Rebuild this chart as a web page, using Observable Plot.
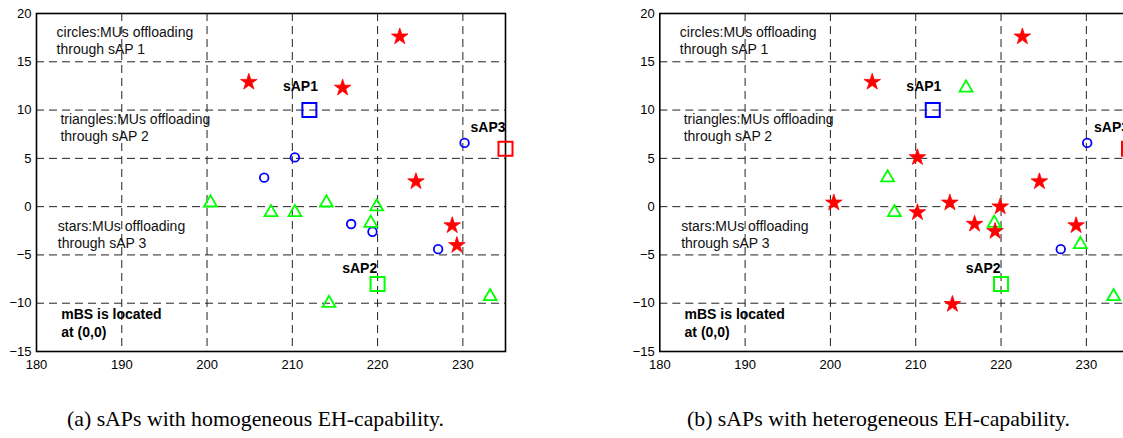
<!DOCTYPE html>
<html>
<head>
<meta charset="utf-8">
<script src="https://cdn.jsdelivr.net/npm/d3@7"></script>
<script src="https://cdn.jsdelivr.net/npm/@observablehq/plot@0.6"></script>
<style>
  html, body { margin: 0; padding: 0; background: white; }
  #wrap { position: relative; width: 1123px; height: 438px; overflow: hidden; background: white; }
  .panel { position: absolute; top: 0; }
  .cap { position: absolute; font-family: "Liberation Serif", "Times New Roman", serif; font-size: 21.8px; white-space: nowrap; color: #000; }
</style>
</head>
<body>
<div id="wrap">
  <div class="panel" id="pa" style="left:0px"></div>
  <div class="panel" id="pb" style="left:560px"></div>
  <div class="cap" id="capA" style="left:67px; top:407px">(a) sAPs with homogeneous EH-capability.</div>
  <div class="cap" id="capB" style="left:687px; top:407px">(b) sAPs with heterogeneous EH-capability.</div>
</div>
<script>
// ---- axis ticks ----
const xTicks = [180, 190, 200, 210, 220, 230];
const yTicks = [-15, -10, -5, 0, 5, 10, 15, 20];

// ---- small cell access points (sAPs) ----
const sapNames = ["sAP1", "sAP2", "sAP3"];
const sapX = [212, 220, 235];
const sapY = [10, -8, 6];
const sapColors = ["#0000ff", "#00ff00", "#ff0000"];
const sapLabelX = [208.9, 215.85, 230.9];
const sapLabelY = [12.4, -6.4, 8.2];

// ---- panel (a): homogeneous EH-capability ----
const aCircleX = [206.7, 210.3, 230.2, 216.9, 219.4, 227.1];
const aCircleY = [3.0, 5.1, 6.6, -1.8, -2.6, -4.4];
const aTriangleX = [200.4, 207.5, 210.3, 214.0, 219.9, 219.2, 214.3, 233.2];
const aTriangleY = [0.4, -0.6, -0.6, 0.4, 0.0, -1.7, -10.0, -9.3];
const aStarX = [204.9, 215.9, 222.6, 224.5, 228.75, 229.3];
const aStarY = [12.9, 12.3, 17.6, 2.6, -1.95, -4.0];

// ---- panel (b): heterogeneous EH-capability ----
const bCircleX = [230.1, 227.0];
const bCircleY = [6.6, -4.4];
const bTriangleX = [215.9, 206.7, 207.5, 219.2, 229.3, 233.2];
const bTriangleY = [12.3, 3.0, -0.6, -1.7, -3.9, -9.3];
const bStarX = [204.9, 222.5, 210.2, 224.5, 200.4, 210.2, 214.0, 219.9, 216.9, 219.3, 228.8, 214.3];
const bStarY = [12.9, 17.6, 5.1, 2.6, 0.4, -0.6, 0.4, 0.0, -1.8, -2.55, -1.95, -10.1];

// ---- annotations ----
const noteTexts = ["circles:MUs offloading\nthrough sAP 1", "triangles:MUs offloading\nthrough sAP 2", "stars:MUs offloading\nthrough sAP 3"];
const noteX = [182.35, 182.8, 182.5];
const noteY = [17.27, 8.2, -2.82];
const boldNote = ["mBS is located\nat (0,0)"];
const boldNoteX = [182.9];
const boldNoteY = [-11.95];

const zip = (xs, ys) => xs.map((x, i) => ({x, y: ys[i]}));
const saps = sapNames.map((n, i) => ({name: n, x: sapX[i], y: sapY[i], c: sapColors[i], lx: sapLabelX[i], ly: sapLabelY[i]}));
const notes = noteTexts.map((t, i) => ({t, x: noteX[i], y: noteY[i]}));
const bold = boldNote.map((t, i) => ({t, x: boldNoteX[i], y: boldNoteY[i]}));

function panel(circles, triangles, stars, width, marginLeft, marginRight) {
  return Plot.plot({
    width, height: 380,
    marginLeft, marginRight, marginTop: 13, marginBottom: 29,
    style: {fontFamily: "'Liberation Sans', Arial, Helvetica, sans-serif", fontSize: "13px", color: "#000", background: "white", overflow: "visible", maxWidth: "none"},
    x: {domain: [180, 235], ticks: xTicks, tickSize: 0, tickPadding: 8, label: null},
    y: {domain: [-15, 20], ticks: yTicks, tickSize: 0, tickPadding: 5, label: null},
    marks: [
      Plot.ruleX(xTicks.slice(1), {stroke: "#222", strokeWidth: 1, strokeDasharray: "8,5"}),
      Plot.ruleY(yTicks.slice(1, -1), {stroke: "#222", strokeWidth: 1, strokeDasharray: "8,5"}),
      Plot.frame({stroke: "#000", strokeWidth: 1.6}),
      Plot.text(notes, {x: "x", y: "y", text: "t", textAnchor: "start", lineAnchor: "middle", fontSize: 14, lineHeight: 1.19, fill: "#111"}),
      Plot.text(bold, {x: "x", y: "y", text: "t", textAnchor: "start", lineAnchor: "middle", fontSize: 14, fontWeight: "bold", lineHeight: 1.3, fill: "#000"}),
      Plot.dot(zip(circles[0], circles[1]), {x: "x", y: "y", symbol: "circle", r: 4.3, stroke: "#0000ff", strokeWidth: 1.8, fill: "none"}),
      Plot.dot(zip(triangles[0], triangles[1]), {x: "x", y: "y", symbol: "triangle", r: 4.8, stroke: "#00ff00", strokeWidth: 1.8, fill: "none"}),
      Plot.dot(zip(stars[0], stars[1]), {x: "x", y: "y", symbol: "star", r: 5.2, stroke: "#ff0000", strokeWidth: 0.8, fill: "#ff0000"}),
      Plot.dot(saps, {x: "x", y: "y", symbol: "square", r: 7.9, stroke: "c", strokeWidth: 2, fill: "none"}),
      Plot.text(saps, {x: "lx", y: "ly", text: "name", textAnchor: "start", lineAnchor: "middle", fontSize: 14, fontWeight: "bold", fill: "#000"})
    ]
  });
}

document.getElementById("pa").append(panel([aCircleX, aCircleY], [aTriangleX, aTriangleY], [aStarX, aStarY], 560, 36, 55));
document.getElementById("pb").append(panel([bCircleX, bCircleY], [bTriangleX, bTriangleY], [bStarX, bStarY], 600, 99.3, 31.5));
</script>
</body>
</html>
